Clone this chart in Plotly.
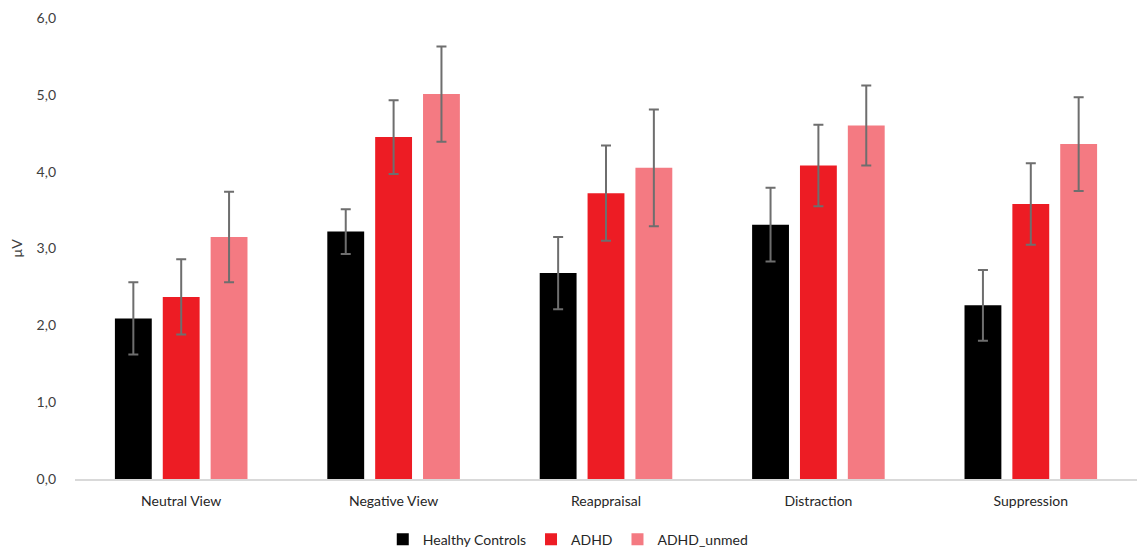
import plotly.graph_objects as go

conditions = ["Neutral View", "Negative View", "Reappraisal", "Distraction", "Suppression"]

hc_mean = [2.09, 3.22, 2.68, 3.31, 2.26]
hc_err = [0.47, 0.29, 0.47, 0.48, 0.46]

adhd_mean = [2.37, 4.45, 3.72, 4.08, 3.58]
adhd_err = [0.49, 0.48, 0.62, 0.53, 0.53]

unmed_mean = [3.15, 5.01, 4.05, 4.60, 4.36]
unmed_err = [0.59, 0.62, 0.76, 0.52, 0.61]

group_names = ["Healthy Controls", "ADHD", "ADHD_unmed"]
group_colors = ["#000000", "#ED1C24", "#F47A82"]

fig = go.Figure()
for name, color, mean, err in zip(group_names, group_colors,
                                  [hc_mean, adhd_mean, unmed_mean],
                                  [hc_err, adhd_err, unmed_err]):
    fig.add_trace(go.Bar(
        name=name, x=conditions, y=mean,
        marker=dict(color=color, line=dict(width=0)),
        error_y=dict(type="data", array=err, visible=True,
                     color="#6E6E6E", thickness=2, width=5),
    ))

font_family = "Lato, 'Open Sans', sans-serif"
fig.update_layout(
    barmode="group",
    bargap=0.324,
    bargroupgap=0.23,
    width=1137, height=549,
    margin=dict(l=75, r=0, t=18, b=70, autoexpand=False),
    paper_bgcolor="white",
    plot_bgcolor="white",
    separators=", ",
    font=dict(family=font_family, color="#404040", size=14),
    showlegend=True,
    legend=dict(orientation="h", x=0.464, xanchor="center",
                yref="container", y=0.017, yanchor="middle",
                font=dict(size=14, color="#262626"), traceorder="normal",
                itemwidth=30),
    xaxis=dict(showline=True, linecolor="#D9D9D9", linewidth=1.5,
               ticks="", tickfont=dict(size=14, color="#262626"),
               ticklabelstandoff=8, showgrid=False, automargin=False),
    yaxis=dict(range=[0, 6], dtick=1, tickformat=".1f", showgrid=False,
               zeroline=False, showline=False, ticks="",
               tickfont=dict(size=14, color="#404040"),
               ticklabelstandoff=18, automargin=False,
               title=dict(text="µV", font=dict(size=14, color="#404040"), standoff=10)),
)

fig.write_html("out.html")
